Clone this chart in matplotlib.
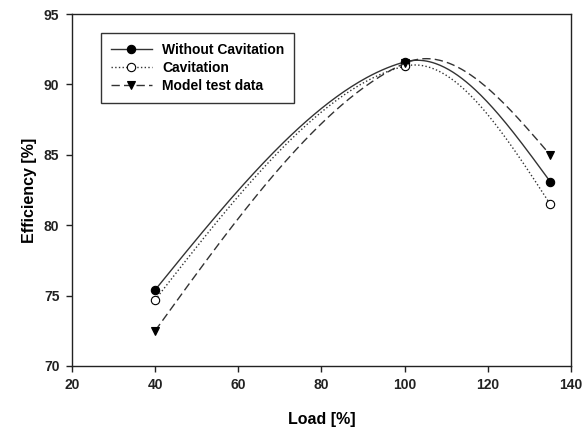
import numpy as np
import matplotlib
matplotlib.use("Agg")
import matplotlib.pyplot as plt

plt.rcParams["font.family"] = ["Liberation Sans", "DejaVu Sans"]
plt.rcParams["font.weight"] = "bold"

load = [40, 100, 135]
eff_without = [75.4, 91.6, 83.1]
eff_cavitation = [74.7, 91.3, 81.5]
eff_model = [72.5, 91.5, 85.0]


def hermite_curve(x, y, n=100):
    """Piecewise cubic Hermite through the points: central-difference slopes
    inside, zero-curvature slopes at both ends."""
    x = np.asarray(x, float)
    y = np.asarray(y, float)
    d = np.diff(y) / np.diff(x)
    m = np.empty_like(y)
    m[1:-1] = (y[2:] - y[:-2]) / (x[2:] - x[:-2])
    m[0] = (3 * d[0] - m[1]) / 2
    m[-1] = (3 * d[-1] - m[-2]) / 2
    xs_all, ys_all = [], []
    for i in range(len(x) - 1):
        h = x[i + 1] - x[i]
        s = np.linspace(0, 1, n)
        h00 = 2 * s ** 3 - 3 * s ** 2 + 1
        h10 = s ** 3 - 2 * s ** 2 + s
        h01 = -2 * s ** 3 + 3 * s ** 2
        h11 = s ** 3 - s ** 2
        xs_all.append(x[i] + s * h)
        ys_all.append(h00 * y[i] + h10 * h * m[i] + h01 * y[i + 1] + h11 * h * m[i + 1])
    return np.concatenate(xs_all), np.concatenate(ys_all)


fig = plt.figure(figsize=(5.88, 4.28), dpi=100)
ax = fig.add_axes([0.1224, 0.145, 0.8486, 0.822])

series = [
    (eff_without, "Without Cavitation", "-", "o", "black"),
    (eff_cavitation, "Cavitation", ":", "o", "white"),
    (eff_model, "Model test data", (0, (6, 3)), "v", "black"),
]
for vals, label, ls, mk, fc in series:
    xs, ys = hermite_curve(load, vals)
    ax.plot(xs, ys, color="#333333", linestyle=ls, linewidth=1.0)
    ax.plot(load, vals, linestyle="none", marker=mk, markersize=6,
            markerfacecolor=fc, markeredgecolor="black", markeredgewidth=0.8)
    # legend proxy
    ax.plot([], [], color="#333333", linestyle=ls, linewidth=1.0, marker=mk,
            markersize=6, markerfacecolor=fc, markeredgecolor="black",
            markeredgewidth=0.8, label=label)

ax.set_xlim(20, 140)
ax.set_ylim(70, 95)
ax.set_xticks(range(20, 141, 20))
ax.set_yticks(range(70, 96, 5))
ax.tick_params(direction="out", length=4, width=1, labelsize=10, colors="#222222",
               pad=5)
for lbl in ax.get_xticklabels() + ax.get_yticklabels():
    lbl.set_fontweight("bold")
for s in ax.spines.values():
    s.set_linewidth(1.0)
    s.set_color("#222222")

ax.set_xlabel("Load [%]", fontsize=11.5, fontweight="bold", labelpad=14)
ax.set_ylabel("Efficiency [%]", fontsize=11.5, fontweight="bold", labelpad=5)

leg = ax.legend(loc="upper left", bbox_to_anchor=(0.058, 0.946), borderaxespad=0,
                frameon=True, fancybox=False, edgecolor="black", handlelength=3.0,
                fontsize=10, borderpad=0.7, labelspacing=0.3, handletextpad=0.7)
leg.get_frame().set_linewidth(1.0)
for t in leg.get_texts():
    t.set_fontweight("bold")

fig.savefig("out.png", dpi=100)
